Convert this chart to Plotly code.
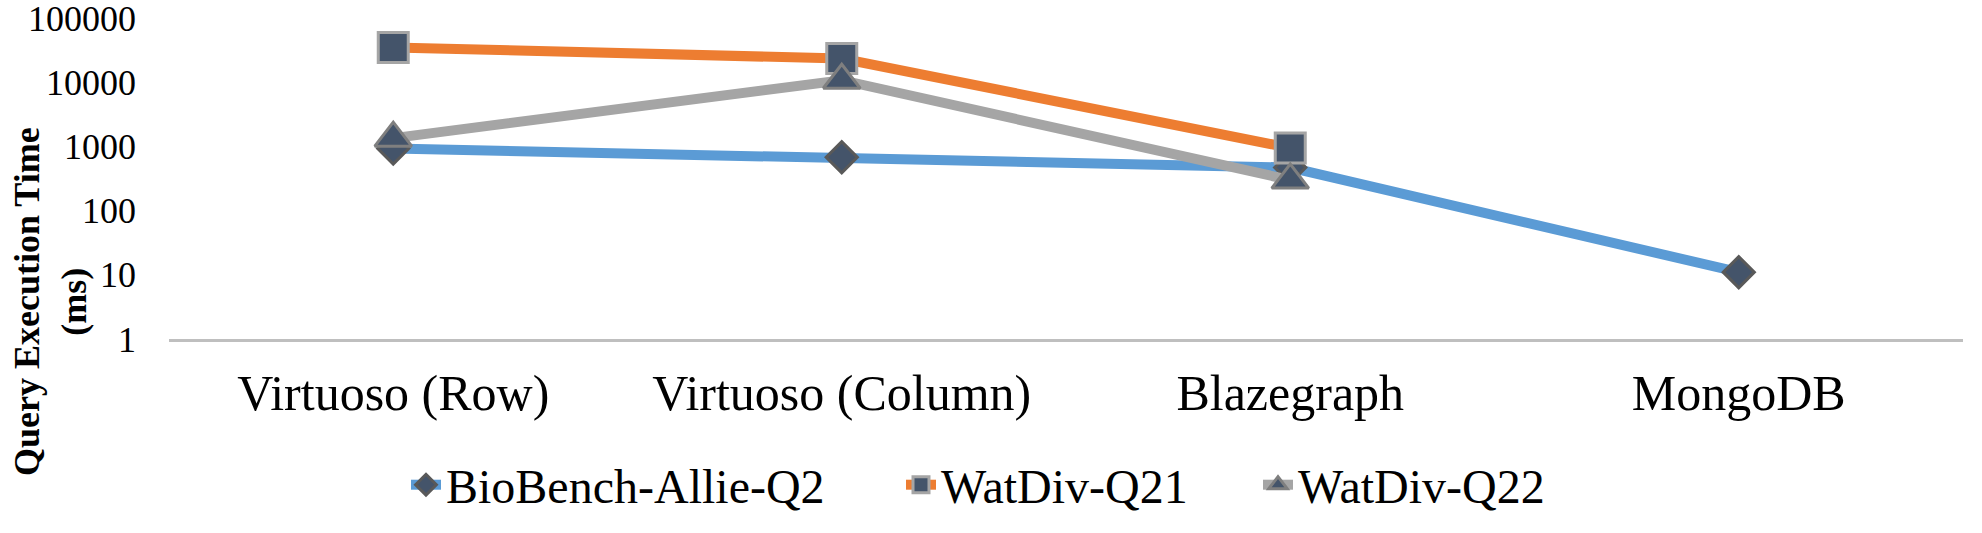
import plotly.graph_objects as go

categories = ["Virtuoso (Row)", "Virtuoso (Column)", "Blazegraph", "MongoDB"]
biobench_q2 = [930, 680, 470, 11]
watdiv_q21 = [35000, 23500, 950, None]
watdiv_q22 = [1350, 10800, 300, None]
y_ticks = [1, 10, 100, 1000, 10000, 100000]

FONT = "Liberation Serif, Times New Roman, serif"
NAVY = "#44546A"

W, H = 1982, 533

fig = go.Figure()
fig.add_trace(go.Scatter(
    x=categories, y=biobench_q2, name="BioBench-Allie-Q2", mode="lines+markers",
    line=dict(color="#5B9BD5", width=10),
    marker=dict(symbol="diamond", size=24, color=NAVY, line=dict(color="#595959", width=3)),
    legend="legend",
))
fig.add_trace(go.Scatter(
    x=categories, y=watdiv_q21, name="WatDiv-Q21", mode="lines+markers",
    line=dict(color="#ED7D31", width=10),
    marker=dict(symbol="square", size=30, color=NAVY, line=dict(color="#A5A5A5", width=3)),
    legend="legend2",
))
fig.add_trace(go.Scatter(
    x=categories, y=watdiv_q22, name="WatDiv-Q22", mode="lines+markers",
    line=dict(color="#A5A5A5", width=10),
    marker=dict(symbol="triangle-up", size=32, color=NAVY, line=dict(color="#7F7F7F", width=3)),
    legend="legend3",
))

def leg(xpx):
    return dict(
        orientation="h", xref="container", yref="container",
        x=xpx / W, xanchor="left", y=(H - 485) / H, yanchor="middle",
        font=dict(family=FONT, size=48, color="black"),
        itemwidth=30, bgcolor="rgba(0,0,0,0)",
    )

L, T, R, B = 169, 18, 1963, 339
fig.update_layout(
    width=W, height=H,
    margin=dict(l=L, r=W - R, t=T, b=H - B, autoexpand=False),
    paper_bgcolor="white", plot_bgcolor="white",
    font=dict(family=FONT, color="black"),
    showlegend=True,
    legend=leg(406),
    legend2=leg(901),
    legend3=leg(1258),
    xaxis=dict(
        type="category", range=[-0.5, 3.5], showline=True, linecolor="#BFBFBF", linewidth=3,
        showgrid=False, zeroline=False, ticks="", automargin=False,
        tickfont=dict(family=FONT, size=50, color="black"),
        ticklabelstandoff=8,
    ),
    yaxis=dict(
        type="log", range=[0, 5.003], showgrid=False, zeroline=False, showline=False,
        tickvals=y_ticks, ticktext=[str(v) for v in y_ticks], ticks="", automargin=False,
        tickfont=dict(family=FONT, size=36, color="black"),
        ticklabelstandoff=32, ticklabeloverflow="allow",
    ),
    annotations=[dict(
        text="<b>Query Execution Time<br>(ms)</b>",
        xref="paper", yref="paper", x=(50 - L) / (R - L), y=(B - 302) / (B - T),
        xanchor="center", yanchor="middle", textangle=-90, showarrow=False,
        font=dict(family=FONT, size=36, color="black"),
    )],
)

fig.write_html(
    "out.html",
    config={"displayModeBar": False},
    post_script="document.body.style.margin='0';document.body.style.overflow='hidden';",
)
